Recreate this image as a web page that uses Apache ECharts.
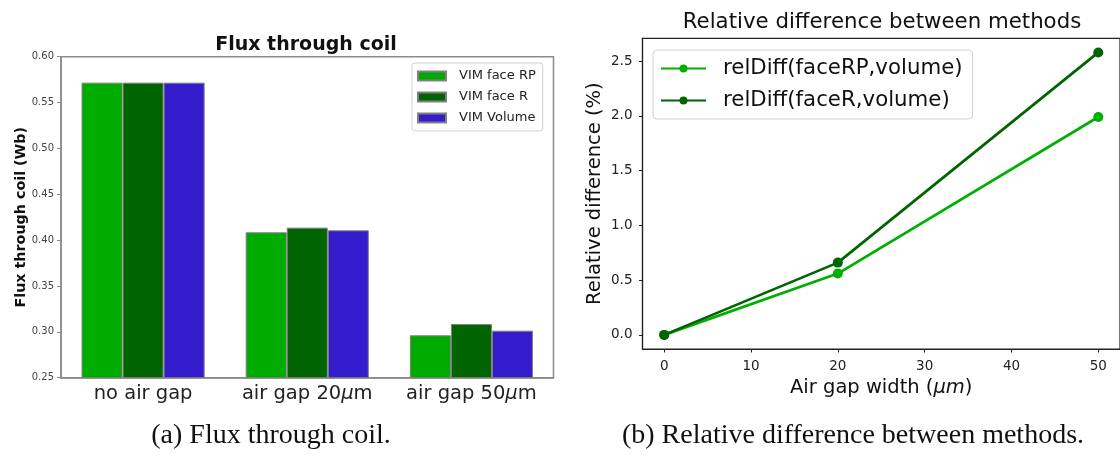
<!DOCTYPE html>
<html>
<head>
<meta charset="utf-8">
<script src="https://cdn.jsdelivr.net/npm/echarts@6/dist/echarts.min.js"></script>
<style>
html,body{margin:0;padding:0;background:#fff;}
#c{width:1120px;height:456px;}
</style>
</head>
<body>
<div id="c"></div>
<script>
// ---- data ----
const categories = ['no air gap', 'air gap 20μm', 'air gap 50μm'];
const fluxFaceRP = [0.5717, 0.4085, 0.2962];
const fluxFaceR = [0.5717, 0.4136, 0.3085];
const fluxVolume = [0.5717, 0.4107, 0.3013];
const fluxTicks = [0.25, 0.30, 0.35, 0.40, 0.45, 0.50, 0.55, 0.60];

const gapWidths = [0, 20, 50];
const relDiffFaceRP = [0, 0.56, 1.99];
const relDiffFaceR = [0, 0.66, 2.58];
const relTicks = [0, 0.5, 1.0, 1.5, 2.0, 2.5];
const gapTicks = [0, 10, 20, 30, 40, 50];

// ---- chart ----
const FF = 'DejaVu Sans';
const chart = echarts.init(document.getElementById('c'), null, {renderer: 'canvas'});
const pairs = ys => gapWidths.map((x, i) => [x, ys[i]]);

const option = {
  animation: false,
  backgroundColor: '#ffffff',
  title: [
    {text: 'Flux through coil', left: 306, top: 36, textAlign: 'center', padding: 0,
     textStyle: {fontFamily: FF, fontSize: 19, fontWeight: 'bold', color: '#111'}},
    {text: 'Relative difference between methods', left: 882, top: 12, textAlign: 'center', padding: 0,
     textStyle: {fontFamily: FF, fontSize: 21.3, fontWeight: 'normal', color: '#111'}},
    {text: '(a) Flux through coil.', left: 271, top: 422, textAlign: 'center', padding: 0,
     textStyle: {fontFamily: 'Liberation Serif', fontSize: 28, fontWeight: 'normal', color: '#111'}},
    {text: '(b) Relative difference between methods.', left: 853, top: 422, textAlign: 'center', padding: 0,
     textStyle: {fontFamily: 'Liberation Serif', fontSize: 28, fontWeight: 'normal', color: '#111'}}
  ],
  legend: [
    {data: ['VIM face RP', 'VIM face R', 'VIM Volume'], orient: 'vertical',
     left: 412, top: 63, padding: [6, 7, 6, 5], itemGap: 7, itemWidth: 28, itemHeight: 9, icon: 'rect',
     borderColor: '#d0d0d0', borderWidth: 1, borderRadius: 3,
     textStyle: {fontFamily: FF, fontSize: 13, lineHeight: 14, color: '#222', padding: [0, 0, 0, 8]}},
    {data: ['relDiff(faceRP,volume)', 'relDiff(faceR,volume)'], orient: 'vertical',
     left: 653, top: 50, padding: [7, 10, 7, 7], itemGap: 9, itemWidth: 45, itemHeight: 10,
     borderColor: '#d0d0d0', borderWidth: 1, borderRadius: 4,
     textStyle: {fontFamily: FF, fontSize: 21.3, lineHeight: 23, color: '#111', padding: [0, 0, 0, 12]}}
  ],
  grid: [
    {left: 61, top: 56.7, width: 492.5, height: 321, show: true, borderColor: '#8a8a8a', borderWidth: 1.5, containLabel: false},
    {left: 642.5, top: 38.3, width: 478.5, height: 310.7, show: true, borderColor: '#222', borderWidth: 1.2, containLabel: false}
  ],
  xAxis: [
    {gridIndex: 0, type: 'category', data: categories,
     axisLine: {lineStyle: {color: '#8a8a8a', width: 1.5}},
     axisTick: {alignWithLabel: true, length: 4, lineStyle: {color: '#8a8a8a', width: 1}},
     axisLabel: {interval: 0, margin: 6, fontFamily: FF, fontSize: 19.5, color: '#222',
       formatter: v => v.replace('μ', '{it|μ}'),
       rich: {it: {fontFamily: FF, fontSize: 19.5, fontStyle: 'italic', color: '#222'}}}},
    {gridIndex: 1, type: 'value', min: -2.5, max: 52.5,
     axisLine: {onZero: false, lineStyle: {color: '#222', width: 1.2}},
     axisTick: {length: 3.5, customValues: gapTicks, lineStyle: {color: '#222'}},
     axisLabel: {margin: 10, customValues: gapTicks, fontFamily: FF, fontSize: 13.5, color: '#222'},
     splitLine: {show: false},
     name: 'Air gap width ({it|μm})', nameLocation: 'middle', nameGap: 29,
     nameTextStyle: {fontFamily: FF, fontSize: 19.5, color: '#111',
       rich: {it: {fontFamily: FF, fontSize: 19.5, fontStyle: 'italic', color: '#111'}}}}
  ],
  yAxis: [
    {gridIndex: 0, type: 'value', min: 0.25, max: 0.60,
     axisLine: {show: true, lineStyle: {color: '#8a8a8a', width: 1.5}},
     axisTick: {show: true, length: 4, customValues: fluxTicks, lineStyle: {color: '#8a8a8a'}},
     axisLabel: {margin: 7, customValues: fluxTicks, fontFamily: FF, fontSize: 10, color: '#444',
       formatter: v => Number(v).toFixed(2)},
     splitLine: {show: false},
     name: 'Flux through coil (Wb)', nameLocation: 'middle', nameRotate: 90, nameGap: 33,
     nameTextStyle: {fontFamily: FF, fontSize: 14.3, fontWeight: 'bold', color: '#111'}},
    {gridIndex: 1, type: 'value', min: -0.129, max: 2.709,
     axisLine: {show: true, onZero: false, lineStyle: {color: '#222', width: 1.2}},
     axisTick: {show: true, length: 3.5, customValues: relTicks, lineStyle: {color: '#222'}},
     axisLabel: {margin: 10, customValues: relTicks, fontFamily: FF, fontSize: 13.5, color: '#222',
       formatter: v => Number(v).toFixed(1)},
     splitLine: {show: false},
     name: 'Relative difference (%)', nameLocation: 'middle', nameRotate: 90, nameGap: 38,
     nameTextStyle: {fontFamily: FF, fontSize: 19.5, color: '#111'}}
  ],
  series: [
    {name: 'VIM face RP', type: 'bar', xAxisIndex: 0, yAxisIndex: 0, data: fluxFaceRP,
     barWidth: '25%', barGap: '0%', itemStyle: {color: '#00ab00', borderColor: '#808080', borderWidth: 1}},
    {name: 'VIM face R', type: 'bar', xAxisIndex: 0, yAxisIndex: 0, data: fluxFaceR,
     barWidth: '25%', barGap: '0%', itemStyle: {color: '#006400', borderColor: '#808080', borderWidth: 1}},
    {name: 'VIM Volume', type: 'bar', xAxisIndex: 0, yAxisIndex: 0, data: fluxVolume,
     barWidth: '25%', barGap: '0%', itemStyle: {color: '#341bcc', borderColor: '#808080', borderWidth: 1}},
    {name: 'relDiff(faceRP,volume)', type: 'line', xAxisIndex: 1, yAxisIndex: 1, data: pairs(relDiffFaceRP),
     symbol: 'circle', symbolSize: 10, lineStyle: {color: '#00b000', width: 2.7},
     itemStyle: {color: '#00b000'}},
    {name: 'relDiff(faceR,volume)', type: 'line', xAxisIndex: 1, yAxisIndex: 1, data: pairs(relDiffFaceR),
     symbol: 'circle', symbolSize: 10, lineStyle: {color: '#006400', width: 2.7},
     itemStyle: {color: '#006400'}}
  ]
};
chart.setOption(option);
</script>
</body>
</html>
